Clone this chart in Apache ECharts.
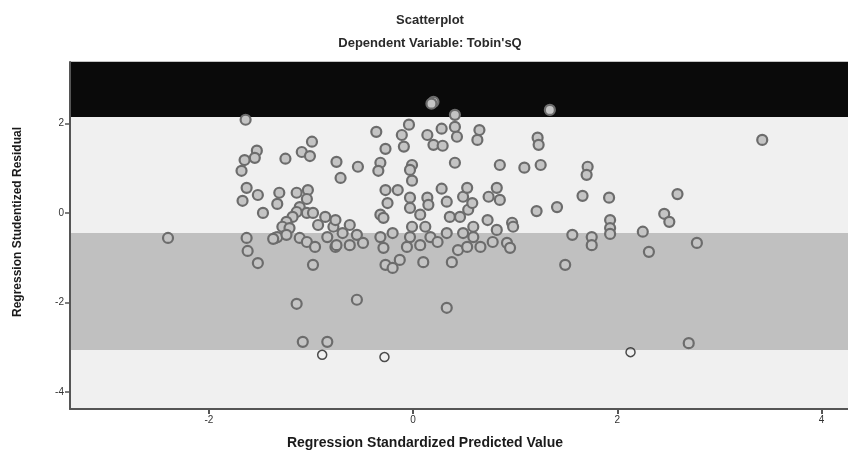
<!DOCTYPE html>
<html>
<head>
<meta charset="utf-8">
<script src="https://cdn.jsdelivr.net/npm/echarts@6/dist/echarts.min.js"></script>
<style>
  html, body { margin: 0; padding: 0; background: #fff; }
  #chart { width: 848px; height: 450px; }
</style>
</head>
<body>
<div id="chart"></div>
<script>
// standardized predicted value (x) / studentized residual (y)
var predX = [
  -2.40, -1.64, -1.53, -1.55, -1.65, -1.25, -1.68, -1.63, -1.52, -1.67,
  -1.31, -1.33, -1.47, -1.63, -1.62, -1.52, -1.35, -0.99, -1.09, -1.01,
  -1.14, -1.03, -1.04, -1.11, -1.14, -1.04, -0.98, -0.86, -1.18, -1.24,
  -0.93, -1.28, -1.21, -1.33, -1.37, -1.24, -1.11, -1.04, -0.96, -0.84,
  -0.76, -0.98, -0.78, -0.76, -0.75, -0.71,
  0.41, -0.04, -0.36, -0.11, 0.14, 0.28, 0.41, 0.43, 0.20, 0.29,
  -0.27, -0.09, -0.54, -0.32, -0.34, -0.01, -0.03, 0.41, -0.01, -0.27,
  -0.15, 0.28, -0.25, -0.03, -0.03, 0.14, 0.15, 0.33, 0.49, 0.53,
  -0.32, -0.29, 0.07, 0.36, 0.46, 0.12, -0.01, -0.62, -0.55, -0.69,
  -0.75, -0.62, -0.49, -0.32, -0.20, -0.03, 0.17, 0.33, 0.49, -0.29,
  -0.06, 0.07, 0.24, 0.44, -0.13, 0.10, 0.38, -0.27, -0.20, -0.55,
  1.34, 0.65, 0.63, 1.22, 1.23, 0.85, 1.09, 1.25, 1.71, 1.70,
  0.82, 0.74, 0.85, 0.54, 0.58, 1.66, 1.41, 1.21, 0.73, 0.97,
  0.98, 1.56, 1.75, 1.75, 0.82, 0.59, 0.59, 0.53, 0.66, 0.78,
  0.92, 0.95, 1.49, 1.92, 2.59, 2.46, 2.51, 1.93, 1.93, 1.93,
  2.25, 2.31, 2.78, 3.42, 0.20, 0.18,
  -1.14, 0.33, -1.08, -0.84, 2.70
];
var residY = [
  -0.56, 2.08, 1.39, 1.23, 1.18, 1.21, 0.94, 0.56, 0.40, 0.27,
  0.45, 0.20, 0.00, -0.56, -0.85, -1.12, -0.56, 1.59, 1.36, 1.27,
  0.45, 0.51, 0.31, 0.13, 0.02, 0.00, 0.00, -0.09, -0.09, -0.20,
  -0.27, -0.31, -0.34, -0.54, -0.58, -0.49, -0.56, -0.65, -0.76, -0.54,
  -0.76, -1.16, -0.31, -0.16, 1.14, 0.78,
  2.19, 1.97, 1.81, 1.74, 1.74, 1.88, 1.92, 1.70, 1.52, 1.50,
  1.43, 1.48, 1.03, 1.12, 0.94, 1.07, 0.96, 1.12, 0.72, 0.51,
  0.51, 0.54, 0.22, 0.34, 0.11, 0.34, 0.18, 0.25, 0.36, 0.56,
  -0.04, -0.11, -0.04, -0.09, -0.09, -0.31, -0.31, -0.27, -0.49, -0.45,
  -0.72, -0.72, -0.67, -0.54, -0.45, -0.54, -0.54, -0.45, -0.45, -0.78,
  -0.76, -0.72, -0.65, -0.83, -1.05, -1.10, -1.10, -1.16, -1.23, -1.94,
  2.30, 1.85, 1.63, 1.68, 1.52, 1.07, 1.01, 1.07, 1.03, 0.85,
  0.56, 0.36, 0.29, 0.07, 0.22, 0.38, 0.13, 0.04, -0.16, -0.22,
  -0.31, -0.49, -0.54, -0.72, -0.38, -0.31, -0.54, -0.76, -0.76, -0.65,
  -0.67, -0.78, -1.16, 0.34, 0.42, -0.02, -0.20, -0.16, -0.34, -0.47,
  -0.42, -0.87, -0.67, 1.63, 2.48, 2.44,
  -2.03, -2.12, -2.88, -2.88, -2.91
];
// the few points drawn as plain open circles
var openX = [-0.89, -0.28, 2.13];
var openY = [-3.17, -3.22, -3.11];

var xTicks = [-2, 0, 2, 4];
var yTicks = [-4, -2, 0, 2];

// background bands [top, bottom, colour]
var bands = [
  [3.4, 2.14, '#0a0a0a'],
  [2.14, -0.45, '#f0f0f0'],
  [-0.45, -3.06, '#c0c0c0'],
  [-3.06, -4.4, '#f0f0f0']
];

var pts = predX.map(function (x, i) { return [x, residY[i]]; });
var openPts = openX.map(function (x, i) { return [x, openY[i]]; });

var myChart = echarts.init(document.getElementById('chart'));
var font = '"Liberation Sans", Arial, sans-serif';

var option = {
  backgroundColor: '#fff',
  animation: false,
  title: [
    { text: 'Scatterplot', left: 425, top: 9, textAlign: 'center',
      textStyle: { fontFamily: font, fontSize: 13, fontWeight: 'bold', color: '#2a2a2a' } },
    { text: "Dependent Variable: Tobin'sQ", left: 425, top: 32, textAlign: 'center',
      textStyle: { fontFamily: font, fontSize: 13, fontWeight: 'bold', color: '#2a2a2a' } },
    { text: 'Regression Standardized Predicted Value', left: 420, top: 431, textAlign: 'center',
      textStyle: { fontFamily: font, fontSize: 14, fontWeight: 'bold', color: '#1a1a1a' } }
  ],
  graphic: [{
    type: 'text', x: 18, y: 222, rotation: Math.PI / 2,
    style: { text: 'Regression Studentized Residual', font: 'bold 12px ' + font,
      fill: '#1a1a1a', textAlign: 'center', textVerticalAlign: 'middle' }
  }],
  grid: { left: 70, right: 0, top: 62, bottom: 41, show: true,
    borderColor: '#888', borderWidth: 1, backgroundColor: '#f0f0f0' },
  xAxis: {
    type: 'value', min: -3.36, max: 4.26,
    splitLine: { show: false },
    axisLine: { show: true, onZero: false, lineStyle: { color: '#555', width: 2 } },
    axisTick: { show: true, customValues: xTicks, length: 5, lineStyle: { color: '#555', width: 2 } },
    axisLabel: { customValues: xTicks, fontFamily: font, fontSize: 10, color: '#333', margin: 6 },
    z: 5
  },
  yAxis: {
    type: 'value', min: -4.38, max: 3.37,
    splitLine: { show: false },
    axisLine: { show: true, onZero: false, lineStyle: { color: '#555', width: 2 } },
    axisTick: { show: true, customValues: yTicks, length: 5, lineStyle: { color: '#555', width: 1.5 } },
    axisLabel: { customValues: yTicks, fontFamily: font, fontSize: 10, color: '#333', margin: 6 },
    z: 5
  },
  series: [
    {
      type: 'scatter',
      data: pts,
      symbolSize: 10,
      itemStyle: { color: '#c4c4c4', borderColor: '#6c6c6c', borderWidth: 2.2, opacity: 1 },
      markArea: {
        silent: true,
        z: 1,
        data: bands.map(function (b) {
          return [{ yAxis: b[0], itemStyle: { color: b[2], opacity: 1 } }, { yAxis: b[1] }];
        })
      },
      z: 3
    },
    {
      type: 'scatter',
      data: openPts,
      symbolSize: 9,
      itemStyle: { color: 'rgba(0,0,0,0)', borderColor: '#222', borderWidth: 1.5 },
      z: 3
    }
  ]
};

myChart.setOption(option);
</script>
</body>
</html>
